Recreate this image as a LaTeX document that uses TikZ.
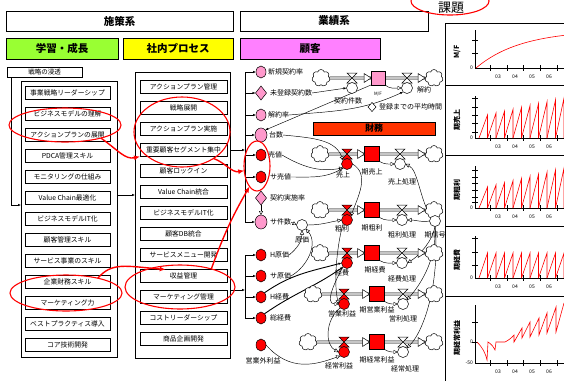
\documentclass[tikz,border=0pt]{standalone}
\usepackage{fontspec}
\setmainfont{Noto Sans CJK JP}
\usetikzlibrary{shapes.geometric,shapes.symbols,arrows.meta,backgrounds}
\definecolor{hgreen}{HTML}{99FF33}
\definecolor{hyellow}{HTML}{FFFF00}
\definecolor{hpink}{HTML}{FF80FF}
\definecolor{cpink}{HTML}{FF99CC}
\definecolor{zaimu}{HTML}{FF3300}
\newcommand\fs[1]{\fontsize{#1}{#1}\selectfont}
\newcommand\myvalve[4]{%
  \filldraw[fill=#4, line width=0.5pt] (#2-5,#3-5) -- (#2+5,#3-5) -- (#2-5,#3+5) -- (#2+5,#3+5) -- cycle;
  \node[vc, fill=#4] (#1) at (#2,#3+10) {};}
\newcommand\flowtri[2]{\filldraw[fill=white, line width=0.5pt] (#1-7,#2-4.5) -- (#1,#2) -- (#1-7,#2+4.5) -- cycle;}
\newcommand\chaxes[4]{%
  \draw[line width=0.5pt] (475,#2) -- (475,#1) -- (566,#1);
  \foreach \yy in {#3} \draw[line width=0.5pt] (472,\yy) -- (478,\yy);
  \foreach \xx in {490,507,523,540,557} \draw[line width=0.5pt] (\xx,#1-3) -- (\xx,#1+3);
  \node[tickl] (#4a) at (498,#1+9) {03};
  \node[tickl] (#4b) at (515,#1+9) {04};
  \node[tickl] (#4c) at (532,#1+9) {05};
  \node[tickl] (#4d) at (549,#1+9) {06};}
\newcommand\sawt[3]{%
  \foreach \i in {0,...,9} {%
    \pgfmathsetmacro\xs{479+8.5*\i}%
    \pgfmathsetmacro\xe{\xs+8.5}%
    \pgfmathsetmacro\hh{#2+(#3-#2)*\i/9}%
    \draw[red, line width=0.6pt] (\xs,#1) -- (\xe,#1-\hh) -- (\xe,#1);}}
\begin{document}
\begin{tikzpicture}[x=1pt,y=-1pt,
  every node/.style={inner sep=0pt, outer sep=0pt},
  hdr/.style={draw, line width=0.6pt, minimum height=20pt, font=\bfseries\fs{10.5}},
  lbox/.style={draw, line width=0.6pt, minimum width=85pt, minimum height=13pt, font=\fs{6.8}},
  mbox/.style={lbox, minimum width=87pt},
  outerbox/.style={draw, line width=0.6pt},
  circ/.style={ellipse, draw, line width=0.5pt, minimum width=10pt, minimum height=12pt},
  pinkc/.style={circ, fill=cpink},
  redc/.style={circ, fill=red},
  dia/.style={diamond, draw, line width=0.5pt, minimum width=11pt, minimum height=14pt, fill=cpink},
  lab/.style={font=\fs{7}, anchor=west},
  clab/.style={font=\fs{7}},
  stockn/.style={draw, line width=0.5pt, minimum width=15pt, minimum height=15pt},
  cloudn/.style={cloud, cloud puffs=7, draw, line width=0.5pt, fill=white, minimum width=18pt, minimum height=17pt, aspect=1},
  vc/.style={circle, draw, line width=0.5pt, fill=white, minimum size=11pt},
  conn/.style={-{Latex[length=3pt,width=2.4pt]}, line width=0.45pt},
  oconn/.style={-{Triangle[open,length=4pt,width=4pt]}, line width=0.45pt},
  redarr/.style={red, line width=1.4pt, -{Latex[length=6pt,width=5pt]}},
  redell/.style={ellipse, draw=red, line width=1.1pt},
  pipe/.style={double=gray!45, double distance=1.8pt, line width=0.5pt},
  tickl/.style={font=\fs{5}}]
\useasboundingbox (0,0) rectangle (564,381);

% headers
\node[hdr, minimum width=227pt] (h1) at (119.5,21) {施策系};
\node[hdr, minimum width=188pt] (h2) at (334,21) {業績系};
\node[hdr, fill=hgreen, minimum width=112pt, minimum height=21pt] (g1) at (62,48.5) {学習・成長};
\node[hdr, fill=hyellow, minimum width=110pt, minimum height=21pt] (g2) at (178,48.5) {社内プロセス};
\node[hdr, fill=hpink, minimum width=140pt, minimum height=21pt] (g3) at (310,48.5) {顧客};
\node[redell, minimum width=78pt, minimum height=28pt] (kd) at (450,1) {};
\node[font=\fs{13}] (kdt) at (451,8) {課題};

% left column
\node[draw, line width=0.6pt, minimum width=75pt, minimum height=10pt, font=\fs{6.5}] (sb) at (44.5,72) {戦略の浸透};
\node[outerbox, minimum width=96pt, minimum height=276pt] (L) at (69,219) {};
\foreach \t [count=\i from 0] in {事業戦略リーダーシップ,ビジネスモデルの理解,アクションプランの展開,PDCA管理スキル,モニタリングの仕組み,Value Chain最適化,ビジネスモデルIT化,顧客管理スキル,サービス事業のスキル,企業財務スキル,マーケティング力,ベストプラクティス導入,コア技術開発}
  \node[lbox] (lb\i) at (67.5,93+21*\i) {\t};

% middle column
\node[outerbox, minimum width=95pt, minimum height=286pt] (M) at (182.5,215) {};
\foreach \t [count=\i from 0] in {アクションプラン管理,戦略展開,アクションプラン実施,重要顧客セグメント集中,顧客ロックイン,Value Chain統合,ビジネスモデルIT化,顧客DB統合,サービスメニュー開発,収益管理,マーケティング管理,コストリーダーシップ,商品企画開発}
  \node[mbox] (mb\i) at (183.5,87+21*\i) {\t};

% network variables
\node[pinkc] (n1) at (261,72) {}; \node[lab] (t1) at (268,72) {新規契約率};
\node[dia] (n2) at (261,93) {}; \node[lab] (t2) at (270,93) {未登録契約数};
\node[pinkc] (n3) at (261,115) {}; \node[lab] (t3) at (268,115) {解約率};
\node[pinkc, minimum width=12pt, minimum height=14pt] (n4) at (261,135) {}; \node[lab] (t4) at (269,135) {台数};
\node[redc] (n5) at (261,155) {}; \node[lab] (t5) at (268,155) {売値};
\node[redc] (n6) at (261,177) {}; \node[lab] (t6) at (270,177) {サ売値};
\node[dia] (n7) at (261,198) {}; \node[lab] (t7) at (270,198) {契約実施率};
\node[pinkc, minimum width=12pt, minimum height=14pt] (n8) at (261,222) {}; \node[lab] (t8) at (270,222) {サ件数};
\node[vc] (gk) at (302,225) {}; \node[clab] (tg) at (302,240) {原価};
\node[redc] (n9) at (261,255) {}; \node[lab] (t9) at (270,255) {H原価};
\node[redc] (n10) at (261,276) {}; \node[lab] (t10) at (270,276) {サ原価};
\node[redc] (n11) at (261,297) {}; \node[lab] (t11) at (270,297) {H経費};
\node[redc] (n12) at (261,318) {}; \node[lab] (t12) at (270,318) {総経費};
\node[redc] (n13) at (261,345) {}; \node[clab] (t13) at (263,361) {営業外利益};

% clouds
\node[cloudn] (ca1) at (321,78) {}; \node[cloudn] (cb1) at (434,78) {};
\node[cloudn] (ca2) at (320,154) {}; \node[cloudn] (cb2) at (434,154) {};
\node[cloudn] (ca3) at (320,210) {}; \node[cloudn] (cb3) at (434,210) {};
\node[cloudn] (ca4) at (320,253) {}; \node[cloudn] (cb4) at (434,253) {};
\node[cloudn] (ca5) at (313,294) {}; \node[cloudn] (cb5) at (434,294) {};
\node[cloudn] (ca6) at (308,342) {}; \node[cloudn] (cb6) at (434,342) {};

% stocks
\node[stockn, fill=cpink, minimum width=14pt, minimum height=14pt] (s1) at (378,78) {};
\node[stockn, fill=red] (s2) at (372,154) {};
\node[stockn, fill=red] (s3) at (372,210) {};
\node[stockn, fill=red] (s4) at (372,253) {};
\node[stockn, fill=red] (s5) at (377,294) {};
\node[stockn, fill=red] (s6) at (377,342) {};

% flow arrowheads
\flowtri{371}{78} \flowtri{425}{78}
\flowtri{364.5}{154} \flowtri{425}{154}
\flowtri{364.5}{210} \flowtri{425}{210}
\flowtri{364.5}{253} \flowtri{425}{253}
\flowtri{369.5}{294} \flowtri{425}{294}
\flowtri{369.5}{342} \flowtri{425}{342}

% valves
\myvalve{v1i}{352}{78}{white} \myvalve{v1o}{407}{78}{white}
\myvalve{v2i}{347}{154}{red} \myvalve{v2o}{400}{154}{white}
\myvalve{v3i}{347}{210}{red} \myvalve{v3o}{402}{210}{white}
\myvalve{v4i}{347}{253}{red} \myvalve{v4o}{402}{253}{white}
\myvalve{v5i}{344}{294}{red} \myvalve{v5o}{403}{294}{white}
\myvalve{v6i}{344}{342}{red} \myvalve{v6o}{403}{342}{white}
\node[vc] (sig) at (435,221) {};

% stock-flow labels
\node[clab] (lv1) at (348,101) {契約件数};
\node[font=\fs{4.5}] (lmf) at (378,94) {M/F};
\node[clab] (lv1o) at (424,90) {解約};
\node[dia, fill=white, minimum width=8pt, minimum height=9pt] (avg) at (372,107) {};
\node[lab] (tavg) at (379,107) {登録までの平均時間};
\node[draw, line width=0.5pt, fill=zaimu, minimum width=122pt, minimum height=13pt, font=\bfseries\fs{9}] (zm) at (374,128.5) {財務};
\node[clab] (lr2a) at (343,175) {売上};
\node[clab] (lr2b) at (372,172) {期売上};
\node[clab] (lr2c) at (402,182) {売上処理};
\node[clab] (lr3a) at (342,229) {粗利};
\node[clab] (lr3b) at (372,228) {期粗利};
\node[clab] (lr3c) at (402,235) {粗利処理};
\node[clab] (lsig) at (435,235) {期信号};
\node[clab] (lr4a) at (342,273) {経費};
\node[clab] (lr4b) at (375,270) {期経費};
\node[clab] (lr4c) at (402,279) {経費処理};
\node[clab] (lr5a) at (342,314) {営業利益};
\node[clab] (lr5b) at (377,310) {期営業利益};
\node[clab] (lr5c) at (403,319) {営利処理};
\node[clab] (lr6a) at (339,366) {経常利益};
\node[clab] (lr6b) at (377,360) {期経常利益};
\node[clab] (lr6c) at (405,369) {経常処理};

% red ellipses
\node[redell, minimum width=112pt, minimum height=34pt] (eL1) at (65,125) {};
\node[redell, minimum width=112pt, minimum height=36pt] (eL2) at (66,293) {};
\node[redell, minimum width=96pt, minimum height=70pt] (eM1) at (182,132) {};
\node[redell, minimum width=110pt, minimum height=44pt] (eM2) at (180,287) {};
\node[redell, minimum width=26pt, minimum height=50pt] (eR) at (257,166) {};

% red arrows
\draw[redarr] (eL1.-20) .. controls (118,150) and (125,160) .. (mb3.south west);
\draw[redarr] (eL2.25) .. controls (112,262) and (125,266) .. (mb9.160);
\draw[redarr] (eM1.-40) to[out=-20,in=190] (eR.200);
\draw[redarr] (eM2.30) to[out=70,in=240] (eR.250);

% connectors on background
\begin{scope}[on background layer]
\fill[white] (0,0) rectangle (564,381);
\coordinate (lc) at (11,205);
\draw[conn] (sb.south -| lc) -- (lc) -- (L.west |- lc);
\coordinate (lm) at (126,195);
\draw[conn] (L.east |- lm) -- (M.west |- lm);
\coordinate (bu1) at (245,72); \coordinate (bu2) at (245,222);
\draw[line width=0.6pt] (bu1) -- (bu2);
\foreach \n in {n1,n2,n3,n4,n5,n6,n8} \draw[conn] (bu1 |- \n) -- (\n.west);
\draw[conn] (M.east |- mb3) -- (bu1 |- mb3);
\coordinate (bl1) at (245,255); \coordinate (bl2) at (245,318);
\draw[line width=0.6pt] (bl1) -- (bl2);
\foreach \n in {n9,n10,n11,n12} \draw[conn] (bl1 |- \n) -- (\n.west);
\coordinate (bl) at (245,290);
\draw[conn] (M.east |- bl) -- (bl);
% pipes
\draw[pipe] (ca1) -- (s1); \draw[pipe] (s1) -- (cb1);
\draw[pipe] (ca2) -- (s2); \draw[pipe] (s2) -- (cb2);
\draw[pipe] (ca3) -- (s3); \draw[pipe] (s3) -- (cb3);
\draw[pipe] (ca4) -- (s4); \draw[pipe] (s4) -- (cb4);
\draw[pipe] (ca5) -- (s5); \draw[pipe] (s5) -- (cb5);
\draw[pipe] (ca6) -- (s6); \draw[pipe] (s6) -- (cb6);
% links
\draw[conn] (t2.east) -- (v1i.west);
\draw[conn] (t3.east) to[out=5,in=205] (v1o.south west);
\draw[conn] (s1.south west) -- (n4.north east);
\draw[oconn] (s1.south east) to[out=-40,in=180] (v1o.west);
\draw[oconn] (t4.east) .. controls (315,138) and (335,140) .. (v2i.north west);
\draw[oconn] (t5.east) to[out=-30,in=190] (v2i.south west);
\draw[oconn] (t6.east) to[out=0,in=210] (v2i.south west);
\draw[oconn] (n7.south) -- (n8.north);
\draw[oconn] (t8.east) -- (gk.west);
\draw[oconn] (gk.east) to[out=0,in=190] (v3i.west);
\draw[oconn] (t9.east) to[out=40,in=-90] (gk.south);
\draw[oconn] (t10.east) to[out=30,in=-50] (gk.south east);
\draw[oconn] (v2i.east) to[out=-30,in=70] (v3i.north east);
\draw[conn, line width=0.9pt] (n11.north east) to[out=35,in=195] (v4i.west);
\draw[conn, line width=0.9pt] (n12.north east) to[out=35,in=215] (v4i.south west);
\draw[oconn] (v3i.south west) .. controls (338,240) and (333,280) .. (v5i.west);
\draw[oconn] (v4i.south west) to[out=-120,in=180] (v5i.west);
\draw[oconn] (v5i.south west) .. controls (325,320) and (325,345) .. (v6i.west);
\draw[oconn] (n13.east) .. controls (290,372) and (315,365) .. (v6i.south west);
\draw[oconn] (s2.south east) to[out=-30,in=180] (v2o.west);
\draw[oconn] (s3.south east) to[out=-30,in=180] (v3o.west);
\draw[oconn] (s4.south east) to[out=-30,in=180] (v4o.west);
\draw[oconn] (s5.south east) to[out=-30,in=180] (v5o.west);
\draw[oconn] (s6.south east) to[out=-30,in=180] (v6o.west);
\draw[oconn] (sig.north west) .. controls (420,200) and (418,170) .. (v2o.east);
\draw[oconn] (sig.west) to[out=190,in=0] (v3o.east);
\draw[oconn] (sig.south) .. controls (433,240) and (420,255) .. (v4o.east);
\draw[oconn] (sig.south) .. controls (437,260) and (420,285) .. (v5o.north east);
\draw[oconn] (sig.south) .. controls (440,280) and (425,330) .. (v6o.north east);
\end{scope}

% charts
\draw[line width=0.7pt] (566,23) -- (445,23) -- (445,381);
\foreach \yy in {85,155,226,296} \draw[line width=0.7pt] (445,\yy) -- (566,\yy);
\node[rotate=90, font=\bfseries\fs{7}] (p1) at (457,52) {M/F};
\node[rotate=90, font=\bfseries\fs{7}] (p2) at (457,120) {期売上};
\node[rotate=90, font=\bfseries\fs{7}] (p3) at (457,190) {期粗利};
\node[rotate=90, font=\bfseries\fs{7}] (p4) at (457,260) {期経費};
\node[rotate=90, font=\bfseries\fs{7}] (p5) at (457,338) {期経常利益};
\chaxes{68}{30}{40,53}{xa}
\chaxes{138}{96}{98,107,115,123,132}{xb}
\chaxes{208}{166}{170,177,183,190,197,202}{xc}
\chaxes{278}{236}{238,252,265}{xd}
\chaxes{363}{305}{322,342}{xe}
\node[tickl, anchor=east] (z1) at (473,68) {0};
\node[tickl, anchor=east] (z2) at (473,138) {0};
\node[tickl, anchor=east] (z3) at (473,208) {0};
\node[tickl, anchor=east] (z4) at (473,278) {0};
\node[tickl, anchor=east] (z5) at (473,342) {0};
\node[tickl, anchor=east] (z6) at (473,363) {-50};
\draw[red, line width=0.6pt] plot[domain=476:566, samples=40] (\x,{68-38*(1-exp(-(\x-476)/45))});
\sawt{138}{23}{40}
\sawt{208}{21}{40}
\sawt{278}{25}{25}
\draw[red, line width=0.6pt] (477,342) to[bend left=15] (487,360) -- (488,342) to[bend left=15] (495,350) -- (496,342) -- (505,342) to[bend right=10] (514,335) -- (514,342) -- (522,328) -- (522,338) -- (530,322) -- (530,337) -- (539,318) -- (539,335) -- (547,313) -- (547,333) -- (556,307) -- (556,332) -- (564,303);
\end{tikzpicture}
\end{document}
